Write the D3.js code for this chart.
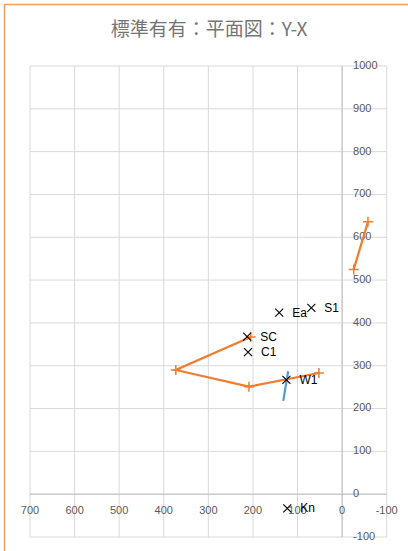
<!DOCTYPE html>
<html>
<head>
<meta charset="utf-8">
<script src="https://cdn.jsdelivr.net/npm/d3@7"></script>
<style>
  body { margin: 0; background: #fff; }
  svg { display: block; }
</style>
</head>
<body>
<div id="chart"></div>
<script>
// chart values
const chartTitle = "標準有有：平面図：Y-X";
const xTickValues = [700, 600, 500, 400, 300, 200, 100, 0, -100];
const yTickValues = [-100, 0, 100, 200, 300, 400, 500, 600, 700, 800, 900, 1000];

// labelled points (x marker)
const pointNames = ["SC", "C1", "Ea", "S1", "W1", "Kn"];
const pointX = [213, 211, 141, 69, 125, 123];
const pointY = [368, 332, 424, 435, 267, -33];

// orange outline (null = gap)
const wallX = [205, 373, 209, 52, null, -26, -58];
const wallY = [367, 290, 251, 283, null, 525, 636];

// short blue line
const blueX = [121, 132];
const blueY = [287, 218];

const width = 408;
const height = 551;

const svg = d3.select('#chart')
    .append('svg')
    .attr('width', width)
    .attr('height', height);

// orange frame (only top and left edges visible)
svg.append('rect')
    .attr('x', 4.5)
    .attr('y', 4.5)
    .attr('width', width + 20)
    .attr('height', height + 20)
    .attr('fill', 'none')
    .attr('stroke', '#f0a060')
    .attr('stroke-width', 1.5);

// title
svg.append('text')
    .attr('x', 209)
    .attr('y', 31)
    .attr('text-anchor', 'middle')
    .attr('dominant-baseline', 'middle')
    .style('font-family', '"Noto Sans CJK JP", sans-serif')
    .style('font-size', '19px')
    .style('fill', '#757575')
    .text(chartTitle);

const x = d3.scaleLinear().domain([700, -100]).range([30, 386.7]);
const y = d3.scaleLinear().domain([-100, 1000]).range([537, 66]);

const grid = svg.append('g');

// vertical gridlines
grid.selectAll('.vgrid')
    .data(xTickValues)
    .enter()
    .append('line')
    .attr('x1', d => x(d))
    .attr('x2', d => x(d))
    .attr('y1', y(1000))
    .attr('y2', y(-100))
    .attr('stroke', '#d9d9d9')
    .attr('stroke-width', 1);

// horizontal gridlines
grid.selectAll('.hgrid')
    .data(yTickValues)
    .enter()
    .append('line')
    .attr('x1', x(700))
    .attr('x2', x(-100))
    .attr('y1', d => y(d))
    .attr('y2', d => y(d))
    .attr('stroke', '#d9d9d9')
    .attr('stroke-width', 1);

// axis lines through zero
grid.append('line')
    .attr('x1', x(700)).attr('x2', x(-100))
    .attr('y1', y(0)).attr('y2', y(0))
    .attr('stroke', '#bfbfbf');
grid.append('line')
    .attr('x1', x(0)).attr('x2', x(0))
    .attr('y1', y(1000)).attr('y2', y(-100))
    .attr('stroke', '#bfbfbf');

// tick labels
const tickFont = '"Liberation Sans", Arial, sans-serif';
svg.selectAll('.xlab')
    .data(xTickValues)
    .enter()
    .append('text')
    .attr('x', d => x(d))
    .attr('y', y(0) + 17)
    .attr('text-anchor', 'middle')
    .attr('dominant-baseline', 'middle')
    .style('font-family', tickFont)
    .style('font-size', '11px')
    .style('fill', '#595959')
    .text(d => d);

svg.selectAll('.ylab')
    .data(yTickValues)
    .enter()
    .append('text')
    .attr('x', x(0) + 11)
    .attr('y', d => y(d))
    .attr('text-anchor', 'start')
    .attr('dominant-baseline', 'middle')
    .style('font-family', tickFont)
    .style('font-size', '11px')
    .style('fill', '#595959')
    .text(d => d);

// orange outline
const wallData = wallX.map((v, i) => ({ x: v, y: wallY[i] }));
const line = d3.line()
    .defined(d => d.x !== null)
    .x(d => x(d.x))
    .y(d => y(d.y));

svg.append('path')
    .datum(wallData)
    .attr('d', line)
    .attr('fill', 'none')
    .attr('stroke', '#ed7d31')
    .attr('stroke-width', 2.25);

svg.selectAll('.plus')
    .data(wallData.filter(d => d.x !== null))
    .enter()
    .append('path')
    .attr('transform', d => `translate(${x(d.x)}, ${y(d.y)})`)
    .attr('d', 'M-5,0H5M0,-5V5')
    .attr('stroke', '#ed7d31')
    .attr('stroke-width', 1.5);

// blue line
const blueData = blueX.map((v, i) => ({ x: v, y: blueY[i] }));
svg.append('path')
    .datum(blueData)
    .attr('d', line)
    .attr('fill', 'none')
    .attr('stroke', '#5b9bd5')
    .attr('stroke-width', 2.25);

// labelled points
const points = pointNames.map((n, i) => ({ name: n, x: pointX[i], y: pointY[i] }));
const pt = svg.selectAll('.pt')
    .data(points)
    .enter()
    .append('g')
    .attr('transform', d => `translate(${x(d.x)}, ${y(d.y)})`);

pt.append('path')
    .attr('d', 'M-4,-4L4,4M-4,4L4,-4')
    .attr('stroke', '#000')
    .attr('stroke-width', 1.1);

pt.append('text')
    .attr('x', 13)
    .attr('y', 1)
    .attr('dominant-baseline', 'middle')
    .style('font-family', tickFont)
    .style('font-size', '12px')
    .style('fill', '#000')
    .text(d => d.name);
</script>
</body>
</html>
